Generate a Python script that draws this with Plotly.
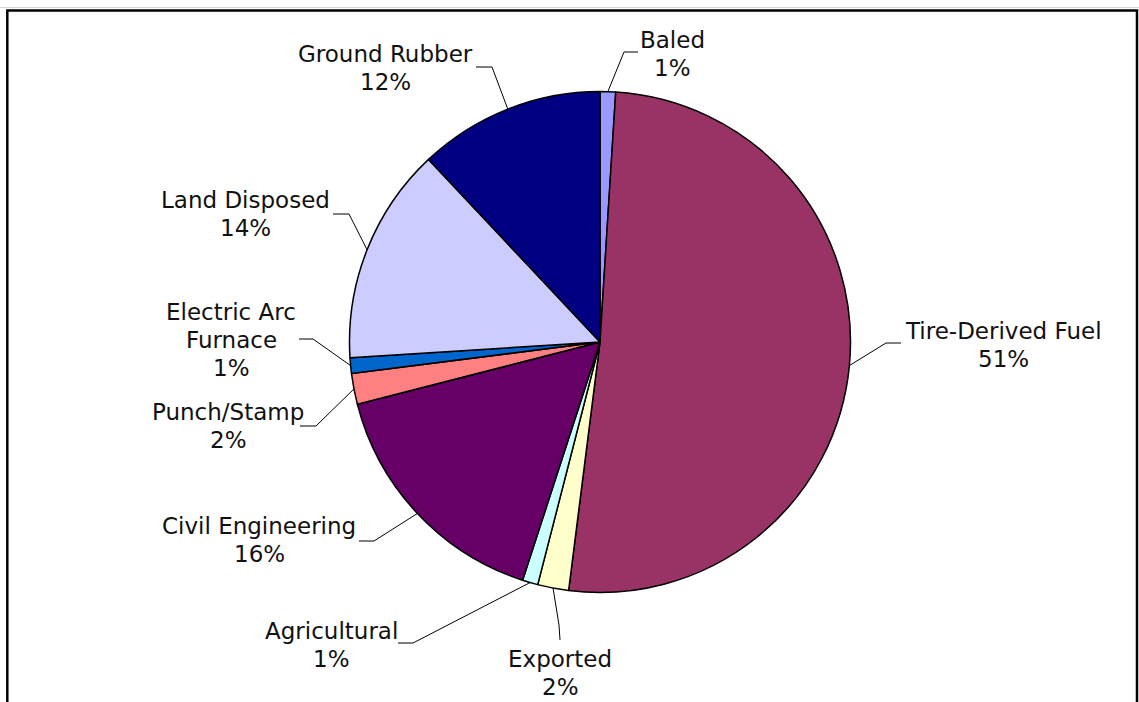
import math
import plotly.graph_objects as go

# Scrap tire end uses (percent of total)
categories = ["Baled", "Tire-Derived Fuel", "Exported", "Agricultural",
              "Civil Engineering", "Punch/Stamp", "Electric Arc Furnace",
              "Land Disposed", "Ground Rubber"]
values = [1, 51, 2, 1, 16, 2, 1, 14, 12]
label_lines = [["Baled"], ["Tire-Derived Fuel"], ["Exported"], ["Agricultural"],
               ["Civil Engineering"], ["Punch/Stamp"], ["Electric Arc", "Furnace"],
               ["Land Disposed"], ["Ground Rubber"]]
colors = ["#9999FF", "#993366", "#FFFFCC", "#CCFFFF", "#660066",
          "#FF8080", "#0066CC", "#CCCCFF", "#000080"]

W, H = 1139, 702
CX, CY, R = 600.0, 342.0, 250.5
FONT = "Verdana, DejaVu Sans, sans-serif"
FS = 23
LINE_GAP = 28

# leader elbow, leader end and label centre (x, first-line y), in pixels
label_layout = {
    "Baled": ((624, 52), (638, 52), (672, 40)),
    "Tire-Derived Fuel": ((886, 343), (901, 343), (1003, 331)),
    "Exported": ((559, 625), (560, 640), (560, 659)),
    "Agricultural": ((413, 643), (398, 643), (331, 631)),
    "Civil Engineering": ((374, 541), (359, 541), (259, 526)),
    "Punch/Stamp": ((316, 426), (300, 426), (228, 412)),
    "Electric Arc Furnace": ((313, 339), (299, 339), (231, 312)),
    "Land Disposed": ((349, 214), (333, 214), (245, 200)),
    "Ground Rubber": ((492, 67), (476, 67), (385, 54)),
}


def px(x):
    return x / W


def py(y):
    return 1 - y / H


fig = go.Figure(go.Pie(
    labels=categories,
    values=values,
    sort=False,
    direction="clockwise",
    rotation=0,
    textinfo="none",
    hoverinfo="label+percent",
    marker=dict(colors=colors, line=dict(color="black", width=1.5)),
    domain=dict(x=[px(CX - R), px(CX + R)], y=[py(CY + R), py(CY - R)]),
    showlegend=False,
))

shapes = []
annotations = []
total = sum(values)
cum = 0.0
for name, val, lines in zip(categories, values, label_lines):
    mid = (cum + val / 2) / total * 2 * math.pi
    cum += val
    ax = CX + R * math.sin(mid)
    ay = CY - R * math.cos(mid)
    elbow, end, (lx, ly) = label_layout[name]
    pts = [(ax, ay), elbow, end]
    path = "M " + " L ".join(f"{px(x)},{py(y)}" for x, y in pts)
    shapes.append(dict(type="path", xref="paper", yref="paper", path=path,
                       line=dict(color="black", width=1)))
    pct = f"{round(val / total * 100)}%"
    for i, t in enumerate(lines + [pct]):
        annotations.append(dict(
            x=px(lx), y=py(ly + i * LINE_GAP), xref="paper", yref="paper",
            text=t, showarrow=False, xanchor="center", yanchor="middle",
            font=dict(family=FONT, size=FS, color="#111111"),
        ))

# chart frame
shapes.append(dict(type="line", xref="paper", yref="paper",
                   x0=0, x1=1, y0=py(7.5), y1=py(7.5),
                   line=dict(color="#d8d8d8", width=1)))
shapes.append(dict(type="rect", xref="paper", yref="paper",
                   x0=px(7.3), x1=px(1137), y0=py(10.5), y1=py(720),
                   line=dict(color="black", width=2.5), fillcolor="rgba(0,0,0,0)"))

fig.update_layout(
    width=W, height=H,
    margin=dict(l=0, r=0, t=0, b=0),
    paper_bgcolor="white",
    plot_bgcolor="white",
    shapes=shapes,
    annotations=annotations,
)

fig.write_html("out.html")
